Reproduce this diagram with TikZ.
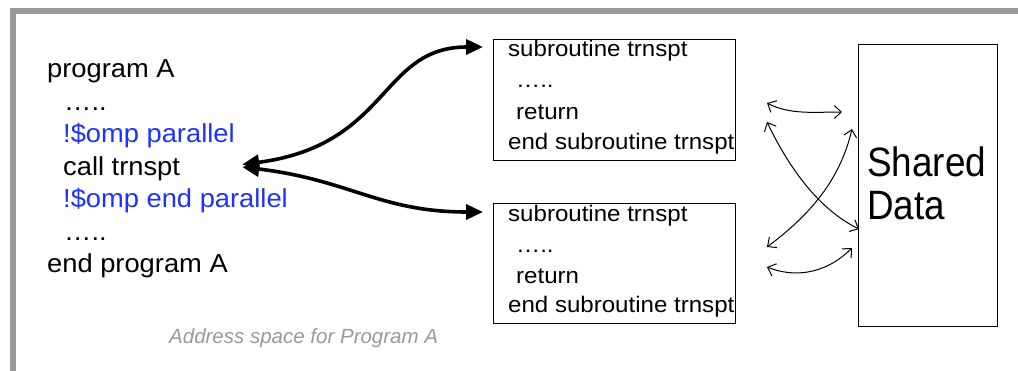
\documentclass[tikz,border=0pt]{standalone}
\usepackage{fontspec}
\setmainfont{Liberation Sans}
\newfontfamily\lefttxt[FakeStretch=1.05]{Liberation Sans}
\newfontfamily\boxtxt[FakeStretch=1.07]{Liberation Sans}
\newfontfamily\sharedtxt[FakeStretch=0.9]{Liberation Sans}
\usetikzlibrary{arrows.meta,calc}
\definecolor{framegray}{RGB}{153,153,153}
\definecolor{ompblue}{RGB}{30,50,250}
\begin{document}
\begin{tikzpicture}[x=1pt,y=-1pt,
  codeline/.style={anchor=base west,inner sep=0pt,font=\lefttxt\fontsize{26}{30}\selectfont},
  omp/.style={codeline,text=ompblue},
  subline/.style={anchor=base west,inner sep=0pt,font=\boxtxt\fontsize{22.5}{26}\selectfont},
  subbox/.style={draw,line width=1pt,minimum width=242pt,minimum height=121pt,inner sep=0pt},
  bigtext/.style={anchor=base west,inner sep=0pt,font=\sharedtxt\fontsize{41}{43}\selectfont},
  bigarrow/.style={line width=3.6pt,{Triangle[length=17pt,width=15pt]}-{Triangle[length=17pt,width=15pt]}},
  thinarrow/.style={line width=1pt,{Straight Barb[length=7pt,width=13pt]}-{Straight Barb[length=7pt,width=13pt]}}]
\useasboundingbox (0,0) rectangle (1018,371);
% frame
\draw[framegray,line width=5.5pt] (13,380) -- (13,10.8) -- (1030,10.8);
% main program text
\node[codeline] (pA) at (47,78) {program A};
\node[codeline] (d1) at (64,110.5) {…..};
\node[omp] (op) at (63,143) {!\$omp parallel};
\node[codeline] (call) at (63,175.5) {call trnspt};
\node[omp] (oe) at (63,208) {!\$omp end parallel};
\node[codeline] (d2) at (64,240.5) {…..};
\node[codeline] (epA) at (47,273) {end program A};
% subroutine boxes
\node[subbox,anchor=north west] (b1) at (493,39) {};
\node[subline] (b1a) at (508,57) {subroutine trnspt};
\node[subline] (b1b) at (516,88) {…..};
\node[subline] (b1c) at (516,120) {return};
\node[subline] (b1d) at (508,150) {end subroutine trnspt};
\node[subbox,anchor=north west,minimum height=120pt] (b2) at (493,203) {};
\node[subline] (b2a) at (508,222) {subroutine trnspt};
\node[subline] (b2b) at (516,253) {…..};
\node[subline] (b2c) at (516,284) {return};
\node[subline] (b2d) at (508,313) {end subroutine trnspt};
% shared data
\node[draw,line width=1.2pt,anchor=north west,minimum width=139pt,minimum height=282pt,inner sep=0pt] (sd) at (858,44) {};
\node[bigtext] (sdt1) at (867,177) {Shared};
\node[bigtext] (sdt2) at (867,220) {Data};
% caption
\node[anchor=base west,inner sep=0pt,text=framegray,font=\itshape\fontsize{20.5}{24}\selectfont] (cap) at (169,344) {Address space for Program A};
% connector coordinates
\coordinate (callA) at ($(call.base east)+(62,-11)$);
\coordinate (callB) at ($(call.base east)+(62,-8.5)$);
\coordinate (b1in) at ($(b1.north west)+(-10,8)$);
\coordinate (b2in) at ($(b2.north west)+(-10,9)$);
% thick arrows
\draw[bigarrow] (callA) .. controls (390,145) and (380,47) .. (b1in);
\draw[bigarrow] (callB) .. controls (350,180) and (380,212) .. (b2in);
% thin arrows near shared data
\coordinate (t1a) at (767,103); \coordinate (t1b) at (842,112);
\coordinate (t2a) at (767,122); \coordinate (t2b) at ($(sd.north west)+(1,185)$);
\coordinate (t3a) at (767,247); \coordinate (t3b) at (852,129);
\coordinate (t4a) at (767,267); \coordinate (t4b) at (852,248);
\draw[thinarrow] (t1a) .. controls (790,115) and (815,112) .. (t1b);
\draw[thinarrow] (t2a) .. controls (790,170) and (820,210) .. (t2b);
\draw[thinarrow] (t3a) .. controls (810,215) and (840,180) .. (t3b);
\draw[thinarrow] (t4a) .. controls (800,280) and (830,270) .. (t4b);
\end{tikzpicture}
\end{document}
